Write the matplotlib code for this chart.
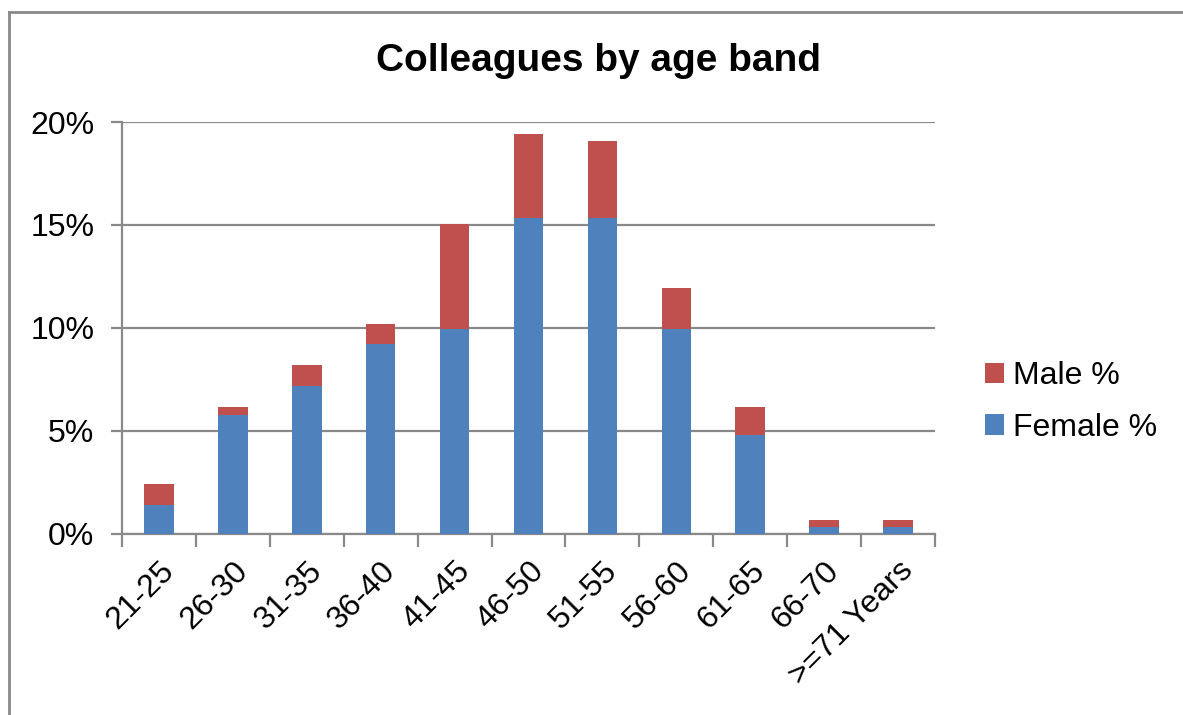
import numpy as np
import matplotlib.pyplot as plt
from matplotlib.lines import Line2D
from matplotlib.ticker import FixedLocator, PercentFormatter

plt.rcParams['font.family'] = ['Liberation Sans', 'DejaVu Sans']

# age bands and shares (percent of all colleagues)
bands = ['21-25', '26-30', '31-35', '36-40', '41-45', '46-50',
         '51-55', '56-60', '61-65', '66-70', '>=71 Years']
female_pct = [1.38, 5.78, 7.16, 9.20, 9.95, 15.32, 15.32, 9.95, 4.77, 0.31, 0.31]
male_pct = [1.01, 0.38, 1.04, 0.99, 5.07, 4.08, 3.77, 1.99, 1.36, 0.37, 0.37]
y_ticks = [0, 5, 10, 15, 20]

W, H = 1183, 715
fig = plt.figure(figsize=(W / 100, H / 100), dpi=100)
ax = fig.add_axes([122 / W, 1 - 533.5 / H, (935 - 122) / W, (533.5 - 122) / H])

grey = '#898989'
blue = '#4F81BD'
red = '#C0504D'

x = np.arange(len(bands))
ax.bar(x, female_pct, width=0.4, color=blue, label='Female %', zorder=3)
ax.bar(x, male_pct, width=0.4, bottom=female_pct, color=red, label='Male %', zorder=3)

ax.set_xlim(-0.5, len(bands) - 0.5)
ax.set_ylim(0, 20)
ax.set_yticks(y_ticks)
ax.yaxis.set_major_formatter(PercentFormatter(decimals=0))
ax.grid(axis='y', color=grey, linewidth=1.6, zorder=0)

# ticks on category boundaries, labels at the centres
ax.xaxis.set_major_locator(FixedLocator(np.arange(-0.5, len(bands), 1.0)))
ax.xaxis.set_minor_locator(FixedLocator(x))
ax.set_xticklabels([], minor=False)
ax.set_xticklabels(bands, minor=True, rotation=45, ha='right',
                   rotation_mode='anchor', fontsize=23)
ax.tick_params(axis='x', which='major', length=9, width=1.6, color=grey)
ax.tick_params(axis='x', which='minor', length=0, pad=16)
ax.tick_params(axis='y', length=8, width=1.6, color=grey, labelsize=23, pad=12)

for side in ['top', 'right']:
    ax.spines[side].set_visible(False)
for side in ['left', 'bottom']:
    ax.spines[side].set_color(grey)
    ax.spines[side].set_linewidth(1.6)

fig.text(598 / W, 1 - 61 / H, 'Colleagues by age band', fontsize=28,
         fontweight='bold', ha='center', va='center')

handles, labels = ax.get_legend_handles_labels()
ax.legend(handles[::-1], labels[::-1], loc='center left',
          bbox_to_anchor=(985 / W, 1 - 402 / H), bbox_transform=fig.transFigure,
          frameon=False, fontsize=23, borderpad=0, borderaxespad=0,
          handlelength=0.6, handleheight=0.6, handletextpad=0.28,
          labelspacing=0.68)

# outer chart frame (only top and left edges fall inside the image)
fig.add_artist(Line2D([8.5 / W, 1.0], [1 - 12 / H, 1 - 12 / H],
                      transform=fig.transFigure, color=grey, linewidth=2))
fig.add_artist(Line2D([8.5 / W, 8.5 / W], [0, 1 - 12 / H],
                      transform=fig.transFigure, color=grey, linewidth=2))

fig.savefig('out.png', dpi=100, facecolor='white')
plt.close()
